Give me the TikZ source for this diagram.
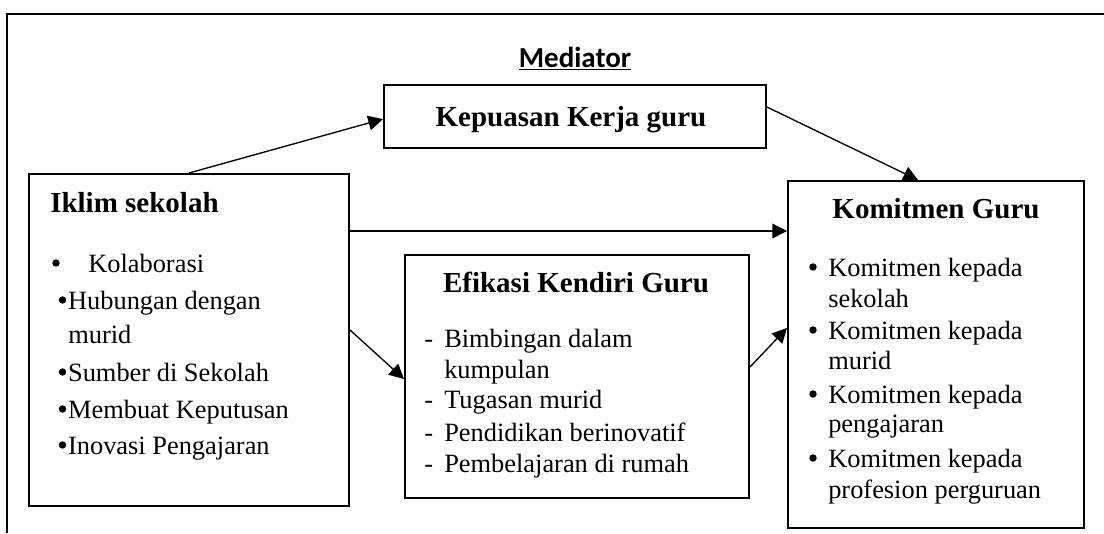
\documentclass[tikz,border=0pt]{standalone}
\usepackage{fontspec}
\setmainfont{Liberation Serif}
\newfontfamily\mediatorfont{Carlito}
\usetikzlibrary{arrows.meta, positioning}

\newcommand{\dotbox}[1]{\makebox[#1][l]{\tikz[baseline = -6.75pt] \fill (0,0) circle (2.8pt);}}
\newcommand{\hyphenbox}[1]{\makebox[#1][l]{-}}

\tikzset{
  px/.style = {x = 0.75pt, y = -0.75pt},
  panel/.style = {draw, line width = 1.5pt, inner sep = 0pt, anchor = north west},
  heading/.style = {font = \fontsize{21.75}{26}\selectfont\bfseries,
    inner sep = 0pt, anchor = base},
  entry/.style = {font = \fontsize{19.8}{24}\selectfont, inner sep = 0pt,
    anchor = base west},
  link/.style = {-{Triangle[length = 11pt, width = 11pt]}, line width = 1pt}
}

\begin{document}
\begin{tikzpicture}[px]
  \useasboundingbox (0,0) rectangle (1104,533);
  \draw [line width = 1.5pt] (1104,14) -| (7,533);

  % boxes
  \node [panel, minimum width = 286.5pt, minimum height = 47.25pt]
    (kepuasan) at (383,84) {};
  \node [panel, minimum width = 240pt, minimum height = 249pt]
    (iklim) at (28,173) {};
  \node [panel, minimum width = 258pt, minimum height = 182.25pt]
    (efikasi) at (404,254) {};
  \node [panel, minimum width = 222pt, minimum height = 260.25pt]
    (komitmen) at (787,180) {};

  % headings
  \node [font = \mediatorfont\bfseries\fontsize{21.75}{26}\selectfont,
    inner sep = 0pt, anchor = base] (mediator) at (575,67) {\underline{Mediator}};
  \node [heading] (kepuasan-title) at (571,126) {Kepuasan Kerja guru};
  \node [heading, anchor = base west] (iklim-title) at (50,212) {Iklim sekolah};
  \node [heading] (efikasi-title) at (576,292) {Efikasi Kendiri Guru};
  \node [heading] (komitmen-title) at (936,218) {Komitmen Guru};

  % lists
  \foreach \x/\y/\txt [count = \i] in {
      52/272/{\dotbox{27pt}Kolaborasi},
      58.5/309/{\dotbox{7pt}Hubungan dengan},
      68/343/{murid},
      58.5/381/{\dotbox{7pt}Sumber di Sekolah},
      58.5/418/{\dotbox{7pt}Membuat Keputusan},
      58.5/454/{\dotbox{7pt}Inovasi Pengajaran}}
    \node [entry] (iklim-\i) at (\x,\y) {\txt};

  \foreach \x/\y/\txt [count = \i] in {
      424/347/{\hyphenbox{15pt}Bimbingan dalam},
      444/378/{kumpulan},
      424/408/{\hyphenbox{15pt}Tugasan murid},
      424/441/{\hyphenbox{15pt}Pendidikan berinovatif},
      424/472/{\hyphenbox{15pt}Pembelajaran di rumah}}
    \node [entry] (efikasi-\i) at (\x,\y) {\txt};

  \foreach \x/\y/\txt [count = \i] in {
      809/276/{\dotbox{14.25pt}Komitmen kepada},
      828/307/{sekolah},
      809/339/{\dotbox{14.25pt}Komitmen kepada},
      828/369/{murid},
      809/403/{\dotbox{14.25pt}Komitmen kepada},
      828/432/{pengajaran},
      809/467/{\dotbox{14.25pt}Komitmen kepada},
      828/498/{profesion perguruan}}
    \node [entry] (komitmen-\i) at (\x,\y) {\txt};

  % arrows
  \coordinate (iklim-out) at ([yshift = -43.5pt] iklim.north east);
  \draw [link] ([xshift = 120.75pt] iklim.north west)
    -- ([yshift = -1.9pt] kepuasan.west);
  \draw [link] ([yshift = 7.1pt] kepuasan.east)
    -- ([xshift = 98.25pt] komitmen.north west);
  \draw [link] (iklim-out) -- (iklim-out -| komitmen.west);
  \draw [link] ([yshift = -117.75pt] iklim.north east)
    -- ([yshift = -93.75pt] efikasi.north west);
  \draw [link] ([yshift = -84.75pt] efikasi.north east)
    -- ([yshift = -111pt] komitmen.north west);
\end{tikzpicture}
\end{document}
